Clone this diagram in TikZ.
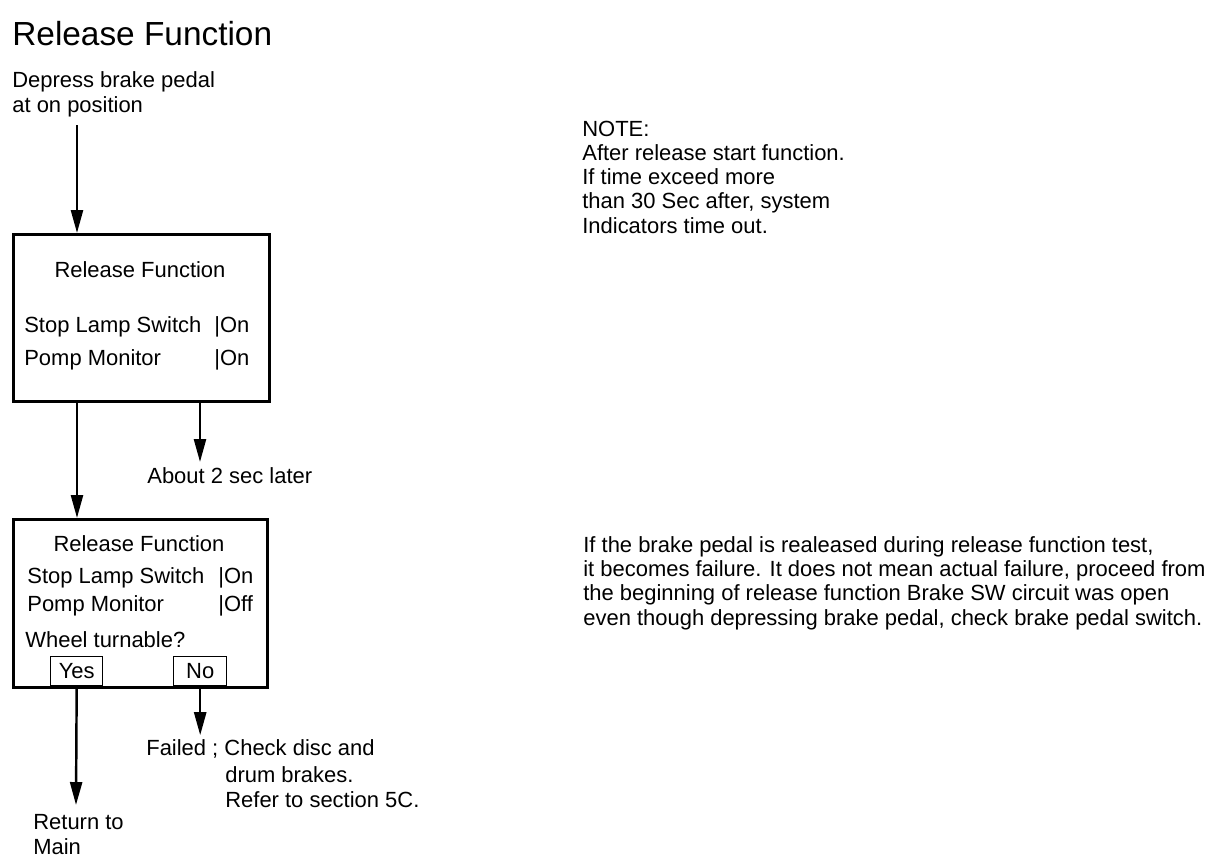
\documentclass[tikz,border=0pt]{standalone}
\usepackage{fontspec}
\setmainfont{Liberation Sans}
\usetikzlibrary{arrows.meta, positioning}

\tikzset{
  txt/.style={inner sep=0pt, anchor=base west, align=left, font=\fontsize{12.5}{13.8}\selectfont},
  panel/.style={draw, line width=1.6pt, anchor=north west, inner sep=0pt},
  choice/.style={draw, line width=0.8pt, anchor=south west, inner sep=0pt, font=\fontsize{12.5}{13.8}\selectfont},
  flow/.style={-{Triangle[length=4.6mm, width=2.4mm]}, line width=1.4pt},
}

\begin{document}
\begin{tikzpicture}[x=0.02cm, y=-0.02cm]
  \useasboundingbox (0,0) rectangle (1216,860);

  \node[inner sep=0pt, anchor=base west, font=\fontsize{19}{22}\selectfont] (title) at (12,45) {Release Function};
  % multi-line texts sit on the baseline of their last line
  \node[txt] (depress) at (12,112) {Depress brake pedal\\at on position};
  \coordinate (in1) at (77,125);

  % first screen
  \node[panel, minimum width=5.12cm, minimum height=3.34cm] (box1) at (12,233) {};
  \node[txt, anchor=base] (head1) at (140,277) {Release Function};
  \node[txt] (slsw1) at (24,332) {Stop Lamp Switch};
  \node[txt] (slval1) at (214,332) {|On};
  \node[txt] (pomp1) at (24,365) {Pomp Monitor};
  \node[txt] (pval1) at (214,365) {|On};

  \coordinate (wait) at (200,462);
  \node[txt] (later) at (147,483) {About 2 sec later};

  % second screen
  \node[panel, minimum width=5.08cm, minimum height=3.36cm] (box2) at (12,518) {};
  \node[txt, anchor=base] (head2) at (139,551) {Release Function};
  \node[txt] (slsw2) at (27,583) {Stop Lamp Switch};
  \node[txt] (slval2) at (218,583) {|On};
  \node[txt] (pomp2) at (27,611) {Pomp Monitor};
  \node[txt] (pval2) at (218,611) {|Off};
  \node[txt] (wheel) at (25,647) {Wheel turnable?};
  \node[choice, minimum width=1.04cm, minimum height=0.58cm] (yes) at (50,686) {Yes};
  \node[choice, minimum width=1.06cm, minimum height=0.58cm] (no) at (173,686) {No};

  \coordinate (retin) at (76,805);
  \node[txt] (ret) at (33,854) {Return to\\Main};
  \node[txt] (failed) at (146,755) {Failed ; Check disc and};
  \node[txt] (drum) at (225,807) {drum brakes.\\Refer to section 5C.};

  % notes
  \node[txt] (note) at (582,233) {NOTE:\\After release start function.\\If time exceed more\\than 30 Sec after, system\\Indicators time out.};
  \node[txt] (remark) at (583,625) {If the brake pedal is realeased during release function test,\\it becomes failure. It does not mean actual failure, proceed from\\the beginning of release function Brake SW circuit was open\\even though depressing brake pedal, check brake pedal switch.};

  \draw[flow] (in1) -- (box1.north -| in1);
  \draw[flow] (box1.south -| in1) -- (box2.north -| in1);
  \draw[flow] (box1.south -| wait) -- (wait);
  \draw[flow] (yes.south) -- (retin);
  \draw[flow] (no.south) -- ([yshift=2pt]no.south |- failed.north);
\end{tikzpicture}
\end{document}
